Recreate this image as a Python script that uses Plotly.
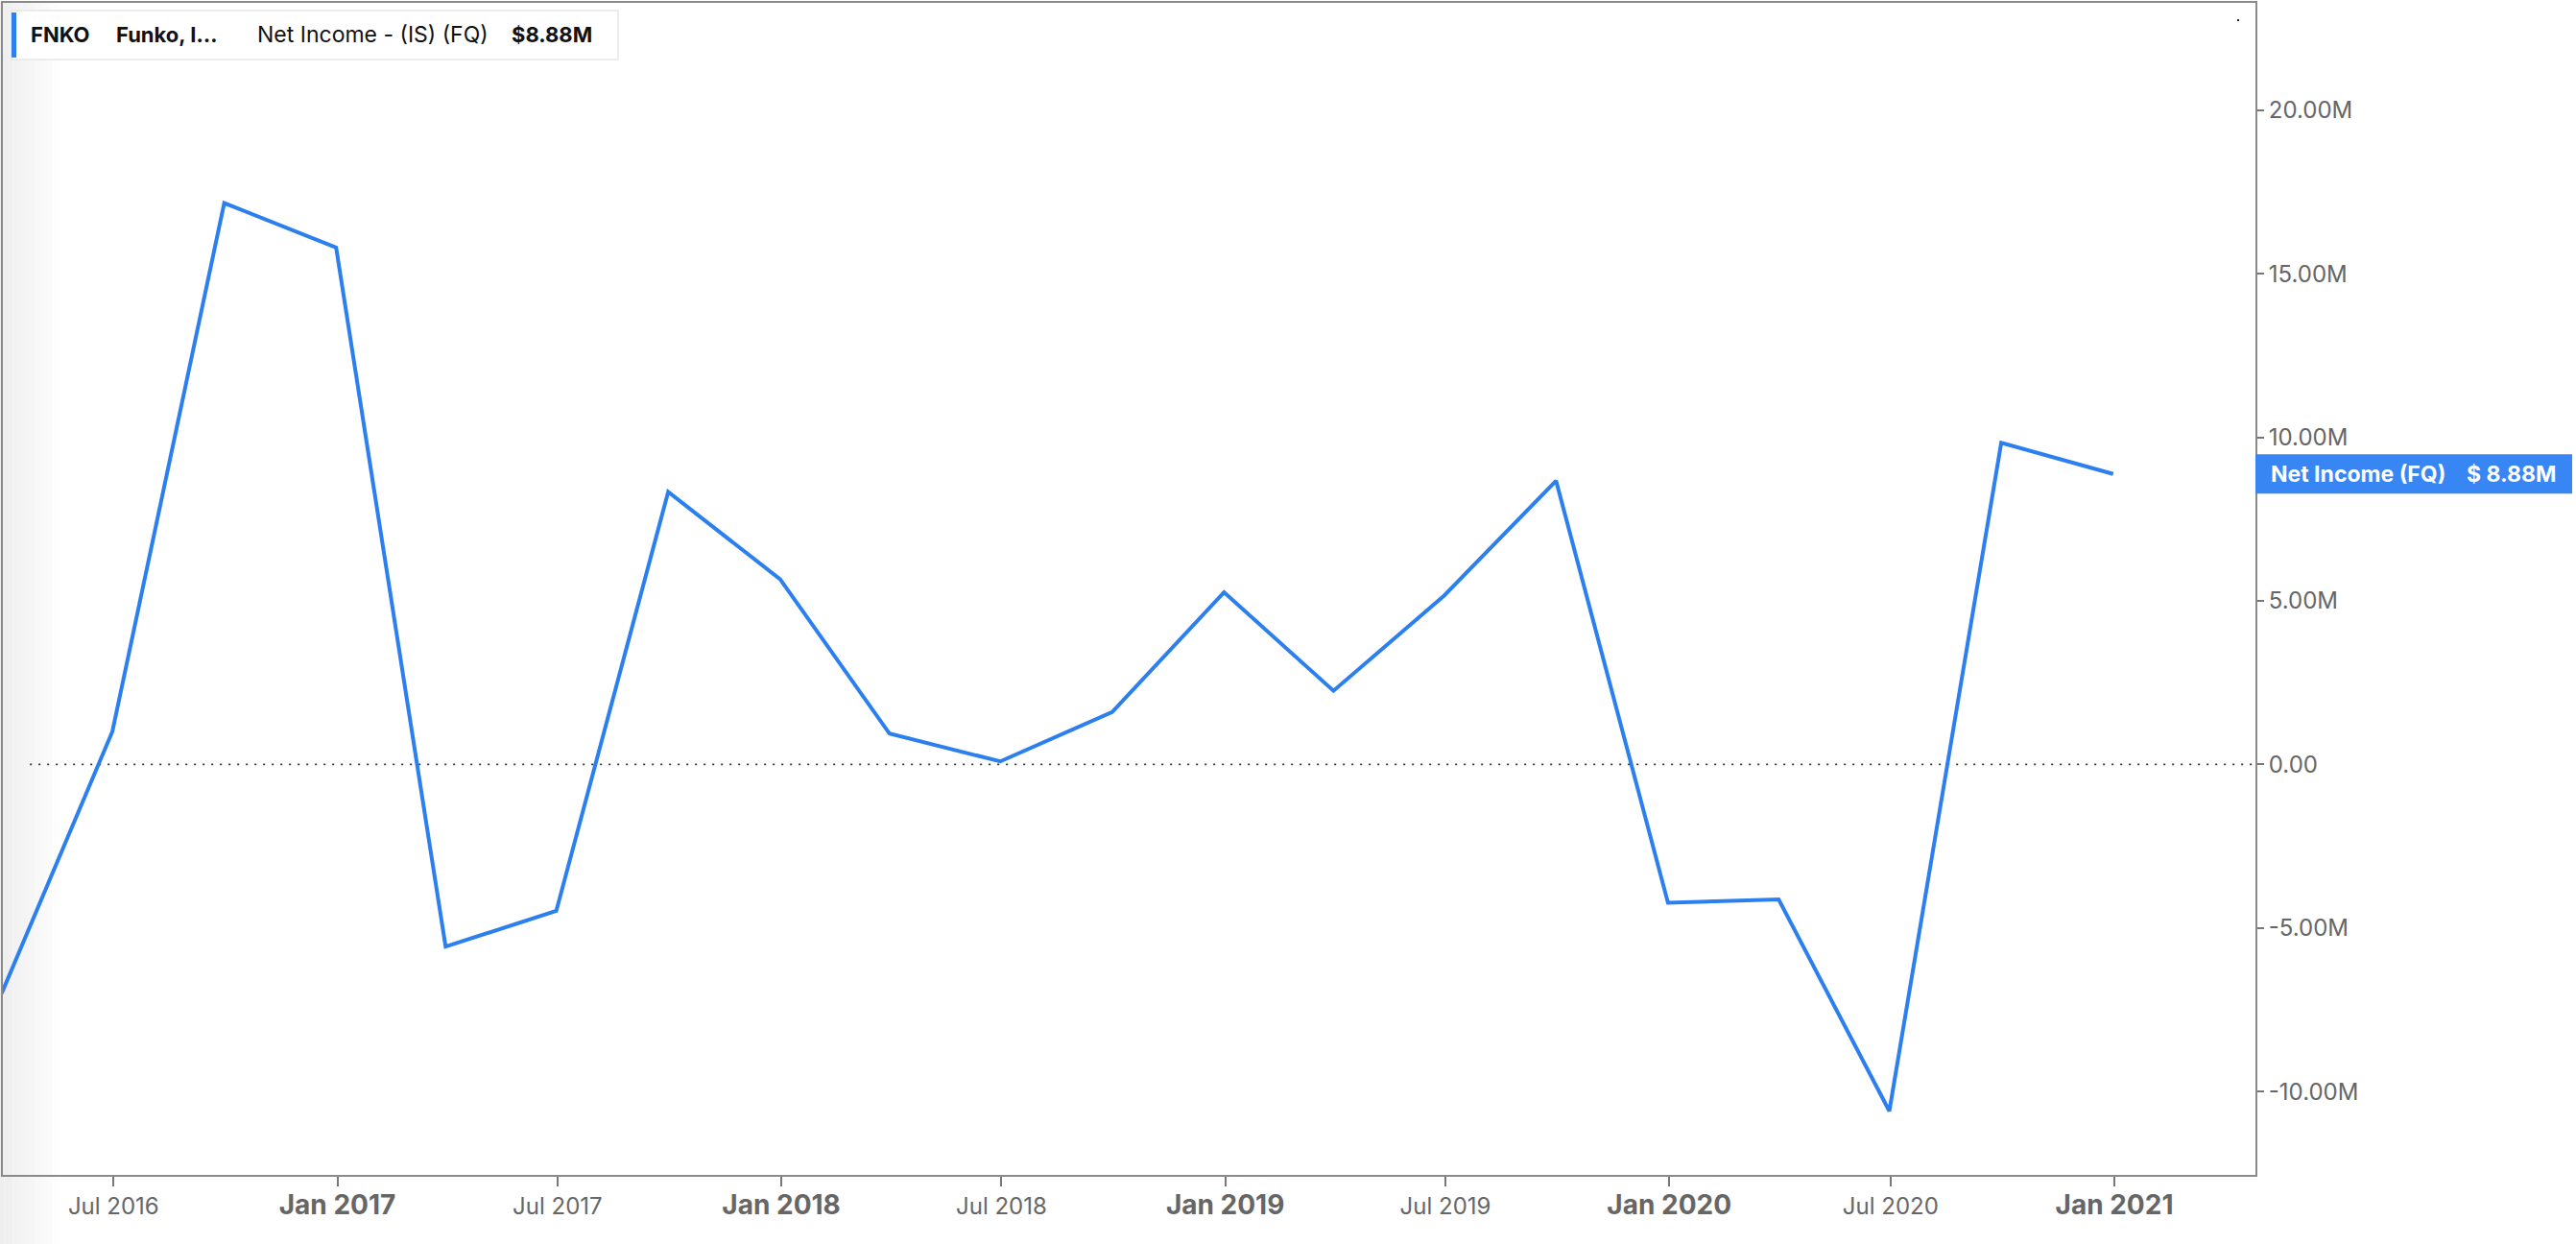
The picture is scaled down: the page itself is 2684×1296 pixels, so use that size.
import plotly.graph_objects as go

# ---- data ----
quarter_ends = ["2016-03-31", "2016-06-30", "2016-09-30", "2016-12-31", "2017-03-31",
                "2017-06-30", "2017-09-30", "2017-12-31", "2018-03-31", "2018-06-30",
                "2018-09-30", "2018-12-31", "2019-03-31", "2019-06-30", "2019-09-30",
                "2019-12-31", "2020-03-31", "2020-06-30", "2020-09-30", "2020-12-31"]
net_income_m = [-7.0, 1.0, 17.16, 15.8, -5.57,
                -4.48, 8.33, 5.66, 0.94, 0.09,
                1.6, 5.26, 2.25, 5.16, 8.67,
                -4.23, -4.13, -10.6, 9.83, 8.88]

x_tick_vals = ["2016-07-01", "2017-01-01", "2017-07-01", "2018-01-01", "2018-07-01",
               "2019-01-01", "2019-07-01", "2020-01-01", "2020-07-01", "2021-01-01"]
x_tick_labels = ["Jul 2016", "Jan 2017", "Jul 2017", "Jan 2018", "Jul 2018",
                 "Jan 2019", "Jul 2019", "Jan 2020", "Jul 2020", "Jan 2021"]
y_tick_vals_m = [-10, -5, 0, 5, 10, 15, 20]
y_tick_labels = ["-10.00M", "-5.00M", "0.00", "5.00M", "10.00M", "15.00M", "20.00M"]

ticker = "FNKO"
company = "Funko, I…"
metric = "Net Income - (IS) (FQ)"
last_label = "$8.88M"
side_label = "Net Income (FQ)"
side_value = "$ 8.88M"

LINE = "#2B7FEE"
GRAY = "#6b6b6b"
FONT = "Inter, Roboto, Arial, sans-serif"

W, H = 2684, 1296
ML, MR, MT, MB = 3, 334, 1, 72
PW = W - ML - MR
PH = H - MT - MB

y_vals = [v * 1e6 for v in net_income_m]

def fmt_tick(lbl):
    if lbl.startswith("Jan"):
        return "<b><span style='font-size:28px'>" + lbl + "</span></b>"
    return lbl

fig = go.Figure()
fig.add_trace(go.Scatter(x=quarter_ends, y=y_vals, mode="lines",
                         line=dict(color=LINE, width=4), hoverinfo="skip",
                         showlegend=False))

# left gradient shade
shapes = []
n = 14
for i in range(n):
    x0 = (-3 + i * 4.5) / PW
    x1 = (-3 + (i + 1) * 4.5) / PW
    op = 0.9 * (1 - i / n)
    shapes.append(dict(type="rect", xref="paper", yref="paper",
                       x0=x0, x1=x1, y0=-MB / PH, y1=1 + MT / PH,
                       fillcolor=f"rgba(236,236,236,{op:.3f})", line=dict(width=0),
                       layer="below"))

# zero dotted line
shapes.append(dict(type="line", xref="paper", yref="y", x0=0.012, x1=1, y0=0, y1=0,
                   line=dict(color="#333333", width=1.6, dash="2px,7px"), layer="below"))

# tiny dot near top-right corner
shapes.append(dict(type="rect", xref="paper", yref="paper",
                   x0=(2331 - ML) / PW, x1=(2333 - ML) / PW,
                   y0=1 - 19 / PH, y1=1 - 17 / PH,
                   fillcolor="#222222", line=dict(width=0)))

# legend box
shapes.append(dict(type="rect", xref="paper", yref="paper",
                   x0=9 / PW, x1=641 / PW, y0=1 - 59 / PH, y1=1 - 8 / PH,
                   fillcolor="white", line=dict(color="#e6e6e6", width=1.5)))
shapes.append(dict(type="rect", xref="paper", yref="paper",
                   x0=9 / PW, x1=14 / PW, y0=1 - 57 / PH, y1=1 - 10 / PH,
                   fillcolor=LINE, line=dict(width=0)))

# side value label box
last_y = y_vals[-1]
shapes.append(dict(type="rect", xref="paper", yref="y",
                   x0=1, x1=(2680 - ML) / PW, y0=last_y + 0.6e6, y1=last_y - 0.6e6,
                   fillcolor="#3786F4", line=dict(width=0)))

annotations = [
    dict(text="<b>" + ticker + "</b>", x=27 / PW, y=1 - 33 / PH, xref="paper", yref="paper",
         xanchor="left", yanchor="middle", showarrow=False,
         font=dict(size=22, color="#111111", family=FONT)),
    dict(text="<b>" + company + "</b>", x=116 / PW, y=1 - 33 / PH, xref="paper", yref="paper",
         xanchor="left", yanchor="middle", showarrow=False,
         font=dict(size=22, color="#111111", family=FONT)),
    dict(text=metric, x=263 / PW, y=1 - 33 / PH, xref="paper", yref="paper",
         xanchor="left", yanchor="middle", showarrow=False,
         font=dict(size=23, color="#111111", family=FONT)),
    dict(text="<b>" + last_label + "</b>", x=528 / PW, y=1 - 33 / PH, xref="paper", yref="paper",
         xanchor="left", yanchor="middle", showarrow=False,
         font=dict(size=22, color="#111111", family=FONT)),
    dict(text="<b>" + side_label + "</b>", x=(2364 - ML) / PW, y=last_y, xref="paper", yref="y",
         xanchor="left", yanchor="middle", showarrow=False,
         font=dict(size=23, color="white", family=FONT)),
    dict(text="<b>" + side_value + "</b>", x=(2665 - ML) / PW, y=last_y, xref="paper", yref="y",
         xanchor="right", yanchor="middle", showarrow=False,
         font=dict(size=23, color="white", family=FONT)),
]

fig.update_layout(
    width=W, height=H,
    margin=dict(l=ML, r=MR, t=MT, b=MB, pad=0),
    paper_bgcolor="white", plot_bgcolor="white",
    font=dict(family=FONT, color=GRAY),
    shapes=shapes, annotations=annotations,
    xaxis=dict(type="date", range=["2016-04-01", "2021-04-27"],
               tickvals=x_tick_vals, ticktext=[fmt_tick(t) for t in x_tick_labels],
               ticks="outside", ticklen=10, tickwidth=1.5, tickcolor="#777777",
               tickfont=dict(size=24, color="#666666", family=FONT),
               showgrid=False, zeroline=False, showline=True, linecolor="#8a8a8a",
               linewidth=2, mirror=True, fixedrange=True),
    yaxis=dict(side="right", range=[-12.55e6, 23.28e6],
               tickvals=[v * 1e6 for v in y_tick_vals_m], ticktext=y_tick_labels,
               ticks="outside", ticklen=7, tickwidth=2, tickcolor="#777777",
               ticklabelstandoff=0,
               tickfont=dict(size=24, color="#666666", family=FONT),
               showgrid=False, zeroline=False, showline=True, linecolor="#8a8a8a",
               linewidth=2, mirror=True, fixedrange=True),
)

fig.write_html("out.html", config={"displayModeBar": False},
               post_script="document.body.style.margin='0';document.body.style.overflow='hidden';")
